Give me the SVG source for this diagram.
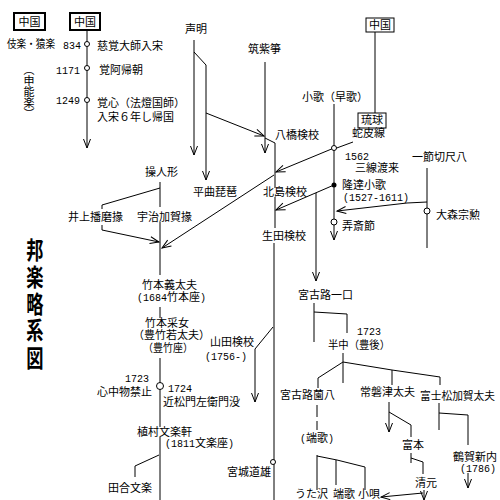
<svg xmlns="http://www.w3.org/2000/svg" width="500" height="500" viewBox="0 0 500 500">
<style>
text{font-family:"Noto Sans CJK JP","Noto Sans CJK SC",sans-serif;font-size:11px;fill:#000}
.n{font-family:"Liberation Mono",monospace;font-size:10px}
.l{fill:none;stroke:#000;stroke-width:1}
.a{marker-end:url(#ah)}
.c{fill:#fff;stroke:#000;stroke-width:1}
.t{font-size:24px;font-weight:bold}
.b1{fill:#fff;stroke:#000;stroke-width:2}
.b2{fill:#fff;stroke:#000;stroke-width:1}
</style>
<defs>
<marker id="ah" viewBox="-10 -5 11 10" refX="0" refY="0" markerWidth="11" markerHeight="10" markerUnits="userSpaceOnUse" orient="auto" overflow="visible">
<path d="M-9,-3.5 L0,0 L-9,3.5" fill="none" stroke="#000" stroke-width="1"/>
</marker>
</defs>
<rect width="500" height="500" fill="#fff"/>
<g id="connectors">
<path class="l a" d="M87,30 V148"/>
<path class="l a" d="M194,40 V155"/>
<path class="l a" d="M194,52 L206,65 V180"/>
<path class="l a" d="M206,113 L264,136"/>
<path class="l a" d="M265,62 V153"/>
<path class="l" d="M265,138 L275,143 V188 M275,197 V228 M274,243 V500"/>
<path class="l" d="M375,32 V113"/>
<path class="l" d="M353,142 L334,149"/>
<path class="l a" d="M334,104 V240"/>
<path class="l a" d="M334,148 L276,172"/>
<path class="l a" d="M274,175 L162,248"/>
<path class="l a" d="M334,185 L276,210"/>
<path class="l a" d="M316,193 V281"/>
<path class="l" d="M427,168 V248"/>
<path class="l a" d="M427,202 L407,203 L337,211"/>
<path class="l" d="M160,182 V207 M160,222 V275"/>
<path class="l" d="M160,188 L102,205 V209"/>
<path class="l a" d="M102,225 V230 L159,242"/>
<path class="l" d="M160,307 V318 M160,358 V427 M160,437 V500"/>
<path class="l" d="M159,455 L135,466 V477"/>
<path class="l a" d="M273,327 L255,349 V402"/>
<path class="l" d="M314,303 V342 M314,312 L347,314 V333"/>
<path class="l" d="M343,353 V383 M343,362 L318,378 V388 M343,362 L392,370 L440,377 M392,370 V385 M440,377 V385"/>
<path class="l" d="M317,405 V430" stroke-dasharray="12,4"/>
<path class="l" d="M317,455 V490 M317,456 L337,460 L365,467 M336,460 V485 M365,467 V490"/>
<path class="l a" d="M389,402 V432"/>
<path class="l" d="M389,412 L411,425 V437"/>
<path class="l" d="M411,453 V463 M411,458 L423,462 V474"/>
<path class="l a" d="M423,493 L381,497"/>
<path class="l a" d="M424,490 V500"/>
<path class="l" d="M439,403 V430 M439,413 L468,415 V445"/>
<path class="l a" d="M468,473 V488"/>
<circle class="c" cx="87" cy="44" r="2.5"/>
<circle class="c" cx="87" cy="68" r="2.5"/>
<circle class="c" cx="87" cy="100" r="2.5"/>
<circle class="c" cx="334" cy="148" r="2.5"/>
<circle cx="334" cy="185" r="2.5" fill="#000"/>
<circle class="c" cx="334" cy="222" r="3"/>
<circle class="c" cx="427" cy="211" r="3"/>
<circle class="c" cx="160" cy="386" r="3.5"/>
<circle class="c" cx="273" cy="462" r="2.5"/>
</g>
<g id="title">
<text class="t" text-anchor="middle" transform="translate(35,259) scale(0.72,1)">邦</text>
<text class="t" text-anchor="middle" transform="translate(35,286) scale(0.72,1)">楽</text>
<text class="t" text-anchor="middle" transform="translate(35,313) scale(0.72,1)">略</text>
<text class="t" text-anchor="middle" transform="translate(35,339) scale(0.72,1)">系</text>
<text class="t" text-anchor="middle" transform="translate(35,367) scale(0.72,1)">図</text>
</g>
<g id="china1"><rect class="b1" x="14" y="13" width="31" height="17"/><text x="29.5" y="26" text-anchor="middle">中国</text></g>
<g id="china2"><rect class="b1" x="70" y="13" width="30" height="17"/><text x="85" y="26" text-anchor="middle">中国</text></g>
<g id="china3"><rect class="b2" x="366" y="18" width="28" height="14"/><text x="380" y="29" text-anchor="middle">中国</text></g>
<g id="ryukyu"><rect class="b2" x="358" y="113" width="28" height="15"/><text x="372" y="124" text-anchor="middle">琉球</text></g>
<g id="gigaku"><text x="7" y="48" textLength="48" lengthAdjust="spacingAndGlyphs">伎楽・猿楽</text></g>
<g id="sarugaku"><text x="29" y="64" font-size="9" style="writing-mode:vertical-rl">（申能楽）</text></g>
<g id="e834"><text class="n" x="63" y="49">834</text><text x="97" y="50">慈覚大師入宋</text></g>
<g id="e1171"><text class="n" x="56" y="74">1171</text><text x="99" y="74">覚阿帰朝</text></g>
<g id="e1249"><text class="n" x="56" y="104">1249</text><text x="97" y="107">覚心（法燈国師）</text><text x="97" y="121">入宋６年し帰国</text></g>
<g id="shomyo"><text x="185" y="33">声明</text></g>
<g id="tsukushigoto"><text x="248" y="53">筑紫箏</text></g>
<g id="kouta"><text x="302" y="101">小歌（早歌）</text></g>
<g id="yatsuhashi"><text x="275" y="139">八橋検校</text></g>
<g id="jabisen"><text x="352" y="137">蛇皮線</text></g>
<g id="sansen"><text class="n" x="345" y="160">1562</text><text x="355" y="172">三線渡来</text></g>
<g id="hitoyogiri"><text x="412" y="161">一節切尺八</text></g>
<g id="ryutatsu"><text x="342" y="189">隆達小歌</text><text class="n" x="343" y="201">(1527-1611)</text></g>
<g id="omori"><text x="436" y="219">大森宗勲</text></g>
<g id="rosai"><text x="342" y="230">弄斎節</text></g>
<g id="ayatsuri"><text x="145" y="176">操人形</text></g>
<g id="heikyoku"><text x="193" y="196">平曲琵琶</text></g>
<g id="kitajima"><text x="263" y="196">北島検校</text></g>
<g id="inoue"><text x="68" y="221">井上播磨掾</text></g>
<g id="uji"><text x="137" y="221">宇治加賀掾</text></g>
<g id="ikuta"><text x="262" y="240">生田検校</text></g>
<g id="gidayu"><text x="142" y="289">竹本義太夫</text><text x="137" y="301"><tspan class="n">(1684</tspan>竹本座<tspan class="n">)</tspan></text></g>
<g id="itchu"><text x="298" y="299">宮古路一口</text></g>
<g id="uneme"><text x="145" y="327">竹本采女</text><text x="133" y="339">（豊竹若太夫）</text><text x="143" y="352" textLength="50" lengthAdjust="spacingAndGlyphs">（豊竹座）</text></g>
<g id="yamada"><text x="210" y="346">山田検校</text><text class="n" x="205" y="360">(1756-)</text></g>
<g id="bungo"><text class="n" x="357" y="335">1723</text><text x="328" y="349" textLength="62" lengthAdjust="spacingAndGlyphs">半中（豊後）</text></g>
<g id="shinju"><text class="n" x="125" y="382">1723</text><text x="97" y="396">心中物禁止</text></g>
<g id="chikamatsu"><text class="n" x="168" y="392">1724</text><text x="163" y="406">近松門左衛門没</text></g>
<g id="tokiwazu"><text x="360" y="396">常磐津太夫</text></g>
<g id="sonohachi"><text x="280" y="399">宮古路薗八</text></g>
<g id="fujimatsu"><text x="420" y="400" textLength="75" lengthAdjust="spacingAndGlyphs">富士松加賀太夫</text></g>
<g id="bunrakuken"><text x="137" y="436">植村文楽軒</text><text x="165" y="447"><tspan class="n">(1811</tspan>文楽座<tspan class="n">)</tspan></text></g>
<g id="hauta1"><text x="300" y="442"><tspan class="n">(</tspan>端歌<tspan class="n">)</tspan></text></g>
<g id="tomimoto"><text x="402" y="449">富本</text></g>
<g id="shinnai"><text x="453" y="461">鶴賀新内</text><text class="n" x="460" y="472">(1786)</text></g>
<g id="miyagi"><text x="227" y="476">宮城道雄</text></g>
<g id="kiyomoto"><text x="415" y="487">清元</text></g>
<g id="denbun"><text x="108" y="492">田合文楽</text></g>
<g id="utazawa"><text x="295" y="498">うた沢</text></g>
<g id="hauta2"><text x="333" y="498">端歌</text></g>
<g id="kouta2"><text x="358" y="498">小唄</text></g>
</svg>
